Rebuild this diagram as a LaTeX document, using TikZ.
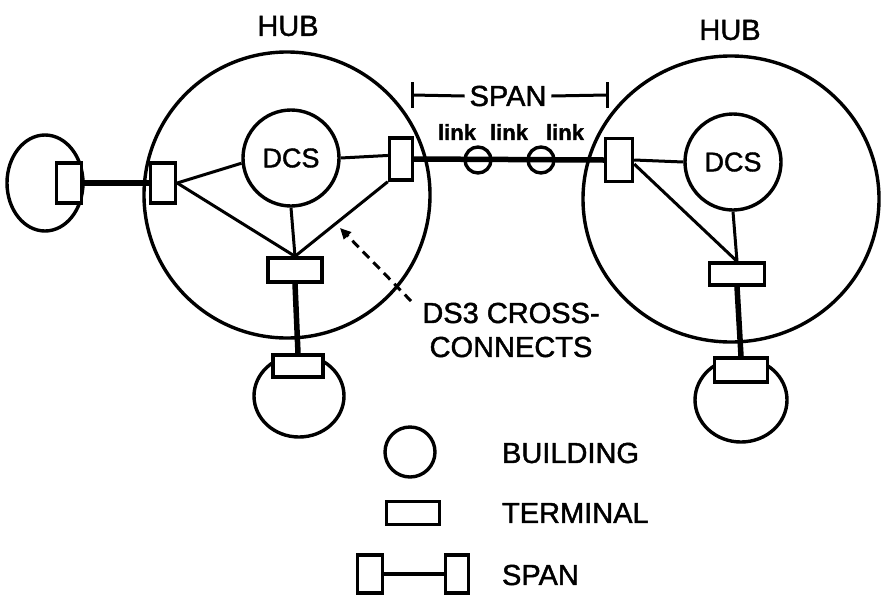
\documentclass[tikz,border=0pt]{standalone}
\usepackage{fontspec}
\setmainfont{Liberation Sans}[FakeBold=1.5]
\usetikzlibrary{arrows.meta,shapes.geometric}
\begin{document}
\begin{tikzpicture}[x=1pt,y=-1pt,
  line width=3.4pt,
  ring/.style={draw, circle, inner sep=0pt, minimum size=#1},
  oval/.style={draw, ellipse, inner sep=0pt},
  term/.style={draw, fill=white, rectangle, inner sep=0pt, line width=3.4pt},
  vterm/.style={term, minimum width=25pt, minimum height=40pt},
  hterm/.style={term, minimum width=53pt, minimum height=23pt},
  big/.style={font=\fontsize{29}{34}\selectfont},
  dcstext/.style={font=\fontsize{27}{30}\selectfont},
  linktext/.style={font=\bfseries\fontsize{22}{24}\selectfont},
  thin/.style={line width=3pt},
  thick span/.style={line width=5.5pt},
]
\useasboundingbox (0,0) rectangle (882,600);

% hubs
\node[ring=286pt] (hubL) at (287,195) {};
\node[oval, minimum width=296pt, minimum height=286pt] (hubR) at (731,199) {};
\node[big] (hubLlbl) at (288,26) {HUB};
\node[big] (hubRlbl) at (730,30) {HUB};

% DCS
\node[ring=96pt, dcstext] (dcsL) at (291,158) {DCS};
\node[ring=96pt, dcstext] (dcsR) at (733,162) {DCS};

% buildings
\node[oval, minimum width=76pt, minimum height=96pt] (bldW) at (45,183) {};
\node[oval, minimum width=90pt, minimum height=82pt] (bldLB) at (299,396) {};
\node[oval, minimum width=92pt, minimum height=84pt] (bldRB) at (741,400) {};

% span bracket
\node[big] (spanlbl) at (508,96) {SPAN};
\coordinate (spL) at (412,95);
\coordinate (spR) at (607,95);
\draw[thin] (spL) -- (spanlbl.west);
\draw[thin] (spanlbl.east) -- (spR);
\draw[thin] ([yshift=13pt]spL) -- ([yshift=-13pt]spL);
\draw[thin] ([yshift=13pt]spR) -- ([yshift=-13pt]spR);

% link labels
\node[linktext] (lk1) at (457,132) {link};
\node[linktext] (lk2) at (509,132) {link};
\node[linktext] (lk3) at (565,132) {link};

% terminals
\node[vterm] (TW) at (69,183) {};
\node[vterm] (TLl) at (163,183) {};
\node[vterm, minimum width=23pt, minimum height=42pt] (TLr) at (401,159) {};
\node[hterm, minimum width=54pt, minimum height=24pt] (TLb) at (295,270) {};
\node[hterm, minimum width=50pt, minimum height=22pt] (TLbb) at (298,366) {};
\node[vterm, minimum width=27pt, minimum height=43pt] (TRl) at (619,160) {};
\node[hterm, minimum width=55pt, minimum height=22pt] (TRb) at (737,274) {};
\node[hterm, minimum width=53pt, minimum height=24pt] (TRbb) at (741,370) {};

% span line and link circles
\draw[thick span] (TLr.east) -- (TRl.west);
\node[ring=26pt] (lc1) at (478,160) {};
\node[ring=26pt] (lc2) at (541,160) {};

% left hub connections
\draw[thick span] (TW.east) -- (TLl.west);
\draw[thin] (TLl.east) -- (dcsL.186);
\draw[thin] (TLl.east) -- (TLb.north);
\draw[thin] (dcsL.south) -- (TLb.north);
\draw[thin] (TLr.165) -- (dcsL.east);
\draw[thin] (TLr.south west) -- (TLb.north);
\draw[thick span] (TLb.south) -- (TLbb.north);

% right hub connections
\draw[thin] (TRl.east) -- (dcsR.west);
\draw[thin] (TRl.-15) -- (TRb.north);
\draw[thin] (dcsR.south) -- (TRb.north);
\draw[thick span] (TRb.south) -- (TRbb.north);

% DS3 cross-connects
\node[big, align=center] (ds3) at (511,330) {DS3 CROSS-\\CONNECTS};
\coordinate (ds3tail) at (411,301);
\coordinate (ds3head) at (340,228);
\draw[line width=3pt, dash pattern=on 9pt off 6pt, -{Triangle[length=11pt,width=10pt]}] (ds3tail) -- (ds3head);

% legend
\node[ring=50pt] (legB) at (410,452) {};
\node[big, anchor=west] (legBt) at (497,453) {BUILDING};
\node[hterm] (legT) at (413,513) {};
\node[big, anchor=west] (legTt) at (497,513) {TERMINAL};
\node[vterm, minimum width=25pt, minimum height=38pt] (legS1) at (370,574) {};
\node[vterm, minimum width=23pt, minimum height=38pt] (legS2) at (457,574) {};
\draw[line width=4.5pt] (legS1.east) -- (legS2.west);
\node[big, anchor=west] (legSt) at (497,575) {SPAN};
\end{tikzpicture}
\end{document}
